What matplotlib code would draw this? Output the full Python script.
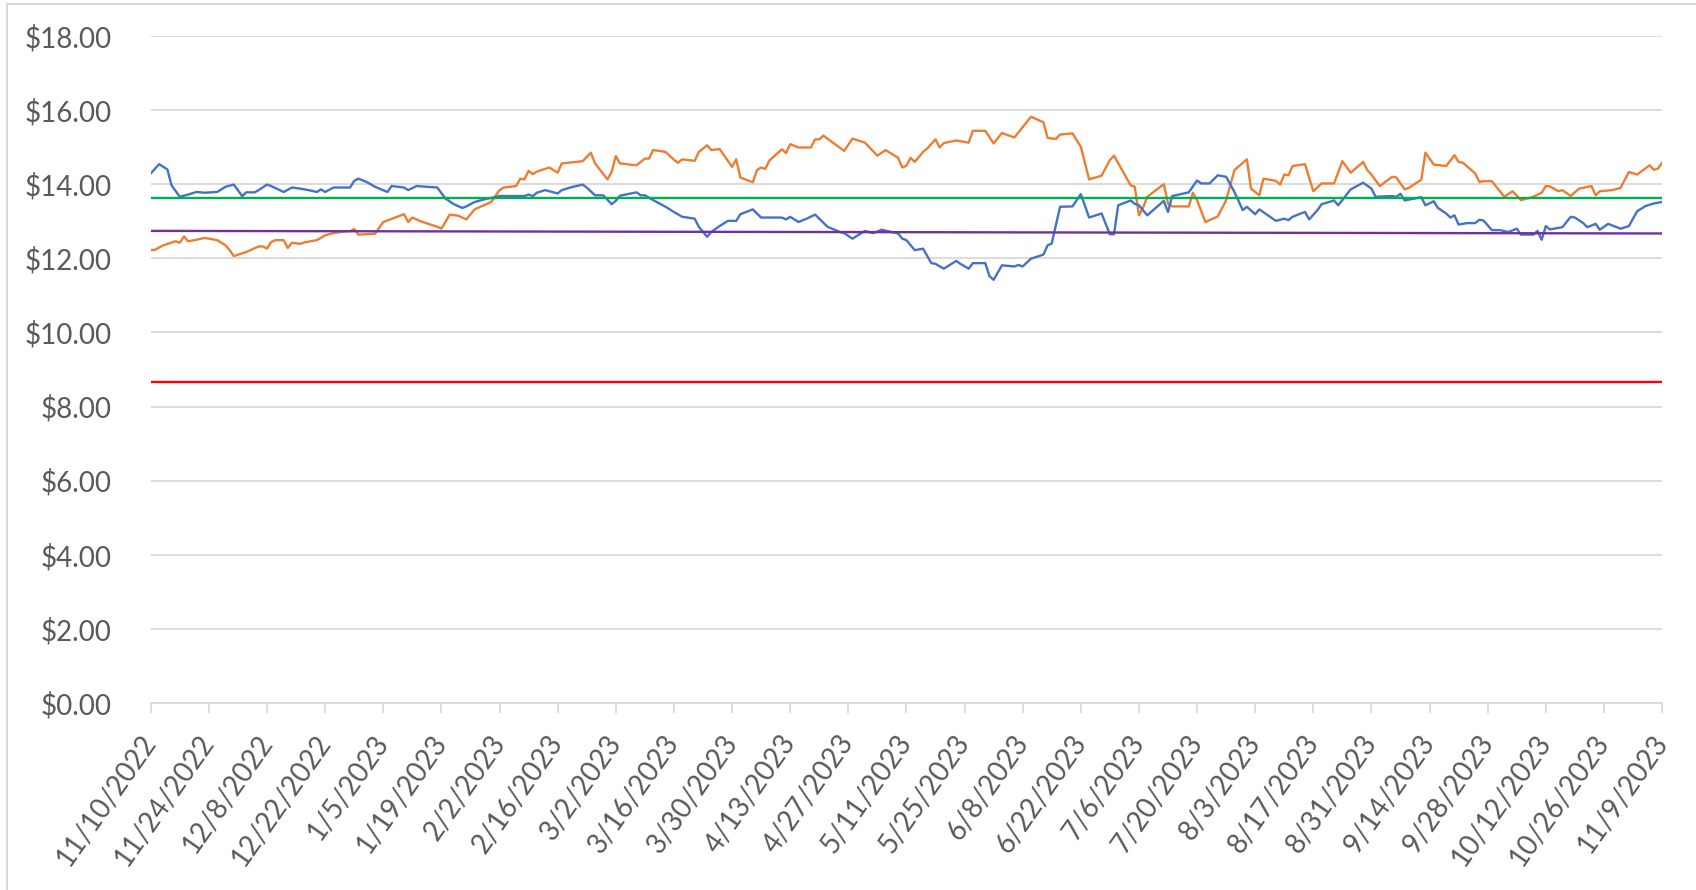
import numpy as np
import pandas as pd
import matplotlib
matplotlib.use("Agg")
import matplotlib.pyplot as plt
from matplotlib.lines import Line2D

# ---------------------------------------------------------------------------
# data (x = days after START)
# ---------------------------------------------------------------------------
START = "2022-11-10"
END = "2023-11-09"

blue_days = [0, 2, 4, 5, 7, 9, 11, 13, 16, 18, 20, 22, 23, 25, 26, 28, 29, 32, 34, 36,
             38, 40, 41, 42, 44, 48, 49, 50, 52, 54, 57, 58, 61, 62, 64, 69, 71, 73, 75, 76,
             78, 79, 81, 83, 84, 90, 91, 92, 93, 95, 98, 99, 101, 104, 105, 107, 109, 111, 112, 113,
             117, 118, 119, 121, 124, 126, 128, 131, 132, 134, 135, 137, 139, 141, 142, 145, 147, 152, 153, 154,
             156, 158, 160, 163, 166, 167, 169, 172, 174, 176, 180, 181, 182, 184, 186, 188, 189, 191, 194, 195,
             197, 198, 201, 202, 203, 205, 208, 209, 210, 212, 215, 216, 217, 219, 222, 224, 226, 229, 231, 232,
             233, 236, 237, 238, 240, 244, 245, 246, 250, 252, 253, 255, 257, 259, 261, 263, 264, 266, 267, 271,
             273, 274, 275, 277, 278, 279, 281, 282, 285, 286, 289, 292, 294, 295, 299, 300, 301, 302, 306, 307,
             309, 310, 312, 313, 314, 315, 317, 319, 320, 321, 323, 325, 327, 329, 330, 333, 334, 335, 336, 337,
             340, 342, 343, 345, 346, 348, 349, 351, 354, 356, 358, 360, 362, 364]
blue_vals = [14.29, 14.54, 14.40, 13.97, 13.66, 13.72, 13.79, 13.77, 13.79, 13.93, 13.99, 13.68, 13.78, 13.78, 13.84, 13.99, 13.95, 13.79, 13.91, 13.88,
             13.84, 13.79, 13.86, 13.79, 13.91, 13.91, 14.09, 14.15, 14.06, 13.93, 13.79, 13.95, 13.91, 13.84, 13.95, 13.91, 13.61, 13.46, 13.36, 13.40,
             13.52, 13.55, 13.61, 13.65, 13.68, 13.68, 13.72, 13.68, 13.77, 13.84, 13.75, 13.84, 13.91, 13.99, 13.91, 13.70, 13.70, 13.46, 13.55, 13.69,
             13.78, 13.70, 13.70, 13.57, 13.39, 13.25, 13.12, 13.07, 12.85, 12.58, 12.71, 12.87, 13.01, 13.01, 13.19, 13.32, 13.10, 13.10, 13.05, 13.12,
             12.98, 13.07, 13.18, 12.85, 12.71, 12.68, 12.53, 12.74, 12.68, 12.77, 12.67, 12.53, 12.49, 12.22, 12.26, 11.87, 11.85, 11.72, 11.93, 11.85,
             11.72, 11.87, 11.87, 11.52, 11.42, 11.81, 11.78, 11.82, 11.78, 11.99, 12.10, 12.35, 12.40, 13.39, 13.40, 13.73, 13.10, 13.21, 12.65, 12.65,
             13.43, 13.56, 13.47, 13.43, 13.16, 13.55, 13.25, 13.68, 13.78, 14.10, 14.02, 14.02, 14.24, 14.20, 13.79, 13.30, 13.39, 13.19, 13.32, 13.01,
             13.07, 13.03, 13.12, 13.21, 13.25, 13.05, 13.30, 13.46, 13.56, 13.43, 13.86, 14.04, 13.88, 13.66, 13.68, 13.66, 13.74, 13.56, 13.65, 13.43,
             13.54, 13.36, 13.21, 13.10, 13.16, 12.91, 12.95, 12.95, 13.04, 13.02, 12.76, 12.76, 12.71, 12.80, 12.64, 12.64, 12.74, 12.50, 12.87, 12.78,
             12.84, 13.12, 13.10, 12.95, 12.84, 12.93, 12.77, 12.93, 12.80, 12.87, 13.27, 13.41, 13.48, 13.52]

orange_days = [0, 1, 3, 6, 7, 8, 9, 11, 13, 16, 18, 19, 20, 23, 26, 27, 28, 29, 30, 32,
               33, 34, 36, 37, 40, 42, 44, 47, 48, 49, 50, 54, 56, 61, 62, 63, 65, 69, 70, 72,
               74, 76, 78, 82, 84, 85, 88, 89, 90, 91, 92, 93, 96, 97, 98, 99, 104, 106, 107, 110,
               111, 112, 113, 117, 119, 120, 121, 123, 124, 126, 127, 128, 131, 132, 134, 135, 137, 140, 141, 142,
               145, 146, 147, 148, 149, 152, 153, 154, 156, 159, 160, 161, 162, 167, 169, 172, 175, 177, 180, 181,
               182, 183, 184, 186, 187, 189, 190, 191, 194, 197, 198, 201, 203, 205, 208, 212, 215, 216, 218, 219,
               222, 224, 226, 229, 231, 232, 236, 237, 238, 239, 240, 244, 245, 246, 250, 251, 252, 254, 257, 259,
               261, 264, 265, 267, 268, 271, 272, 273, 274, 275, 278, 280, 282, 285, 287, 289, 292, 293, 294, 296,
               299, 300, 302, 303, 306, 307, 309, 312, 314, 315, 316, 319, 320, 321, 323, 326, 328, 330, 333, 335,
               336, 337, 339, 340, 342, 344, 347, 348, 349, 352, 354, 356, 358, 361, 362, 363, 364]
orange_vals = [12.22, 12.23, 12.35, 12.46, 12.42, 12.59, 12.46, 12.50, 12.55, 12.49, 12.35, 12.22, 12.06, 12.17, 12.32, 12.32, 12.26, 12.44, 12.49, 12.49,
               12.28, 12.42, 12.39, 12.43, 12.49, 12.62, 12.68, 12.73, 12.73, 12.79, 12.64, 12.66, 12.98, 13.19, 12.98, 13.10, 13.00, 12.85, 12.80, 13.18,
               13.15, 13.05, 13.32, 13.52, 13.84, 13.91, 13.95, 14.15, 14.13, 14.36, 14.27, 14.34, 14.45, 14.38, 14.31, 14.56, 14.62, 14.85, 14.56, 14.13,
               14.33, 14.76, 14.56, 14.51, 14.69, 14.69, 14.92, 14.89, 14.87, 14.66, 14.58, 14.67, 14.63, 14.87, 15.05, 14.92, 14.95, 14.47, 14.67, 14.18,
               14.05, 14.38, 14.45, 14.41, 14.64, 14.94, 14.84, 15.08, 14.99, 14.99, 15.21, 15.21, 15.31, 14.90, 15.23, 15.12, 14.77, 14.92, 14.71, 14.45,
               14.50, 14.71, 14.60, 14.87, 14.96, 15.21, 14.99, 15.11, 15.18, 15.12, 15.44, 15.44, 15.10, 15.38, 15.26, 15.82, 15.67, 15.25, 15.22, 15.34,
               15.37, 15.01, 14.13, 14.23, 14.65, 14.77, 13.97, 13.93, 13.16, 13.37, 13.66, 14.00, 13.48, 13.40, 13.40, 13.77, 13.57, 12.98, 13.13, 13.57,
               14.38, 14.67, 13.88, 13.70, 14.15, 14.09, 13.99, 14.26, 14.24, 14.49, 14.54, 13.81, 14.02, 14.02, 14.62, 14.31, 14.60, 14.38, 14.26, 13.95,
               14.20, 14.18, 13.86, 13.90, 14.12, 14.85, 14.53, 14.49, 14.78, 14.60, 14.58, 14.29, 14.06, 14.08, 14.08, 13.66, 13.81, 13.57, 13.66, 13.77,
               13.95, 13.94, 13.81, 13.84, 13.68, 13.88, 13.95, 13.70, 13.81, 13.84, 13.90, 14.33, 14.26, 14.51, 14.39, 14.42, 14.58]

green_level = 13.64
purple_start, purple_end = 12.74, 12.67
red_level = 8.65

y_ticks = [0, 2, 4, 6, 8, 10, 12, 14, 16, 18]

# ---------------------------------------------------------------------------
# styling
# ---------------------------------------------------------------------------
BLUE = "#4472C4"
ORANGE = "#ED7D31"
GREEN = "#00B050"
PURPLE = "#7030A0"
RED = "#FF0000"
GRID = "#D9D9D9"
TEXT = "#595959"

plt.rcParams["font.family"] = ["Lato", "DejaVu Sans"]

start = pd.Timestamp(START)
end = pd.Timestamp(END)
blue_x = start + pd.to_timedelta(blue_days, unit="D")
orange_x = start + pd.to_timedelta(orange_days, unit="D")

fig = plt.figure(figsize=(16.96, 8.9), dpi=100)
ax = fig.add_axes([0.0889, 0.2101, 0.8911, 0.7495])

ax.plot(blue_x, blue_vals, color=BLUE, lw=1.7, zorder=4, solid_joinstyle="round")
ax.plot(orange_x, orange_vals, color=ORANGE, lw=1.7, zorder=3, solid_joinstyle="round")
ax.plot([start, end], [green_level, green_level], color=GREEN, lw=1.7, zorder=5)
ax.plot([start, end], [purple_start, purple_end], color=PURPLE, lw=1.7, zorder=5)
ax.plot([start, end], [red_level, red_level], color=RED, lw=1.7, zorder=5)

ax.set_xlim(start, end)
ax.set_ylim(0, 18)
ax.set_yticks(y_ticks)
ax.set_yticklabels([f"${v:.2f}" for v in y_ticks])
ax.yaxis.grid(True, color=GRID, lw=1.3)
ax.set_axisbelow(True)

xt = pd.date_range(start, end, freq="14D")
ax.set_xticks(xt)
ax.set_xticklabels([f"{d.month}/{d.day}/{d.year}" for d in xt],
                   rotation=55, ha="right", va="center", rotation_mode="anchor")

for s in ["top", "right", "left"]:
    ax.spines[s].set_visible(False)
ax.spines["bottom"].set_color(GRID)
ax.spines["bottom"].set_linewidth(1.3)
ax.tick_params(axis="x", colors=GRID, length=7, width=1.3, labelcolor=TEXT,
               labelsize=20, pad=18)
ax.tick_params(axis="y", length=0, labelcolor=TEXT, labelsize=20, pad=28)

# chart-area frame (only left and top edges are inside the crop)
fig.add_artist(Line2D([7 / 1696, 7 / 1696], [0, 1 - 4 / 890], color=GRID, lw=1.5,
                      transform=fig.transFigure))
fig.add_artist(Line2D([7 / 1696, 1], [1 - 4 / 890, 1 - 4 / 890], color=GRID, lw=1.5,
                      transform=fig.transFigure))

fig.savefig("out.png", dpi=100)
